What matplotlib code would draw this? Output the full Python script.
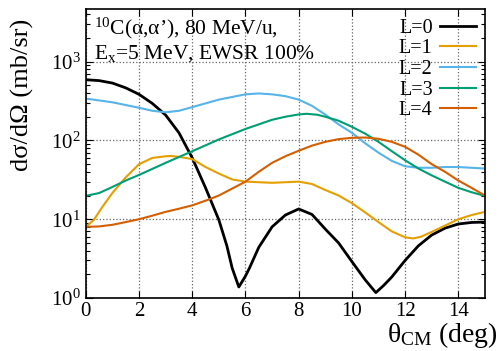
import numpy as np
import matplotlib
matplotlib.use("Agg")
import matplotlib.pyplot as plt
from matplotlib.ticker import LogLocator, LogFormatterMathtext, NullFormatter, MultipleLocator

plt.rcParams["font.family"] = ["Liberation Serif", "DejaVu Serif"]
plt.rcParams["mathtext.fontset"] = "custom"
plt.rcParams["mathtext.rm"] = "Liberation Serif"
plt.rcParams["mathtext.it"] = "Liberation Serif:italic"

# angular distributions (theta_CM in deg, mb/sr)
theta_L0 = [0, 0.5, 1, 1.5, 2, 2.5, 3, 3.5, 4, 4.5, 5, 5.3, 5.5, 5.75, 6.0, 6.15, 6.5, 7, 7.5, 8,
            8.5, 9, 9.5, 10, 10.5, 10.9, 11.2, 11.5, 12, 12.5, 13, 13.5, 14, 14.5, 15]
sig_L0 = [590, 575, 535, 465, 385, 295, 210, 125, 60, 25, 9.8, 4.6, 2.4, 1.38, 1.9, 2.4, 4.4, 8.0, 11.3, 13.5,
          11.5, 7.5, 5.0, 2.9, 1.7, 1.17, 1.45, 1.85, 3.0, 4.6, 6.3, 7.7, 8.7, 9.1, 9.2]

theta_L1 = [0, 0.3, 0.6, 1, 1.5, 2, 2.5, 3, 3.2, 3.5, 4, 4.5, 5, 5.5, 6, 6.5, 7, 7.5, 8, 8.5,
            9, 9.5, 10, 10.5, 11, 11.5, 12, 12.3, 12.6, 13, 13.5, 14, 14.5, 15]
sig_L1 = [8.0, 9.8, 14, 21.6, 34, 50, 60, 63, 63.5, 62, 58, 46, 38, 32, 30, 29.5, 29, 29.5, 30, 28,
          23.5, 20, 16, 12.2, 9.2, 7.0, 5.9, 5.7, 6.0, 6.9, 8.3, 10, 11.3, 12.4]

theta_L2 = [0, 1, 2, 2.5, 3, 3.5, 4, 5, 6, 6.5, 7, 7.5, 8, 8.5, 9, 9.5, 10, 10.5, 11, 11.5, 12,
            12.5, 13, 13.5, 14, 14.5, 15]
sig_L2 = [340, 305, 260, 238, 228, 238, 265, 330, 385, 395, 385, 365, 330, 275, 213, 160, 125, 92, 70, 55, 47,
          45, 45, 46, 46, 45, 44]

theta_L3 = [0, 0.5, 1, 1.5, 2, 3, 4, 5, 6, 7, 7.5, 8, 8.3, 8.7, 9, 9.5, 10, 10.5, 11, 11.5, 12,
            12.5, 13, 13.5, 14, 14.5, 15]
sig_L3 = [19.8, 21.5, 25.7, 31, 36.5, 52, 73, 103, 140, 183, 200, 214, 218, 212, 200, 178, 149, 122, 96, 73, 56,
          44, 36, 30, 25, 22, 19.8]

theta_L4 = [0, 0.5, 1, 1.5, 2, 2.5, 3, 3.5, 4, 4.5, 5, 5.5, 6, 6.5, 7, 7.5, 8, 8.5, 9, 9.5, 10,
            10.5, 11, 11.5, 12, 12.5, 13, 13.5, 14, 14.5, 15]
sig_L4 = [8.0, 8.1, 8.5, 9.2, 10, 11.1, 12.4, 13.6, 15, 17.2, 20, 24.5, 30, 40, 52, 63, 74, 86, 96, 104, 108,
          109, 105, 96, 83, 66, 50, 40, 31, 25, 20]

labels = ["L=0", "L=1", "L=2", "L=3", "L=4"]
colors = ["black", "#E69F00", "#56B4E9", "#009E73", "#D55E00"]
series = [(theta_L0, sig_L0), (theta_L1, sig_L1), (theta_L2, sig_L2),
          (theta_L3, sig_L3), (theta_L4, sig_L4)]

fig = plt.figure(figsize=(5.02, 3.51), dpi=100)
ax = fig.add_axes([0.171, 0.151, 0.795, 0.822])

for (th, sg), lab, col in zip(series, labels, colors):
    lw = 2.0 if lab == "L=0" else 1.5
    ax.plot(th, sg, color=col, linewidth=lw, label=lab)

ax.set_yscale("log")
ax.set_xlim(0, 15)
ax.set_ylim(1, 4600)
ax.xaxis.set_major_locator(MultipleLocator(2))
ax.yaxis.set_major_locator(LogLocator(base=10, numticks=10))
ax.yaxis.set_major_formatter(LogFormatterMathtext())
ax.yaxis.set_minor_locator(LogLocator(base=10, subs=np.arange(2, 10), numticks=10))
ax.yaxis.set_minor_formatter(NullFormatter())

ax.tick_params(which="both", direction="in", top=True, right=True, labelsize=15)
ax.tick_params(which="major", length=5, width=0.8)
ax.tick_params(which="minor", length=3, width=0.8)
ax.tick_params(axis="x", pad=3)
ax.grid(True, which="major", linestyle=":", color="0.4", linewidth=0.9)
for s in ax.spines.values():
    s.set_linewidth(1.2)

# axis titles placed in figure coords to match the reference layout
fig.text(0.044, 0.729, "dσ/dΩ (mb/sr)", rotation=90, fontsize=19,
         ha="center", va="center")
fig.text(0.992, 0.003, r"θ$_{\mathrm{CM}}$ (deg)", fontsize=20,
         ha="right", va="bottom")

ax.text(0.02, 0.978, "$^{10}$C(α,α’), 80 MeV/u,\nE$_{\\mathrm{x}}$=5 MeV, EWSR 100%",
        transform=ax.transAxes, ha="left", va="top", fontsize=15.5, linespacing=1.12)

leg = ax.legend(loc="upper right", frameon=False, fontsize=14.5, markerfirst=False,
                handlelength=1.8, handletextpad=0.35, labelspacing=0.08,
                borderaxespad=0.25, borderpad=0.2)

fig.savefig("out.png", dpi=100)
